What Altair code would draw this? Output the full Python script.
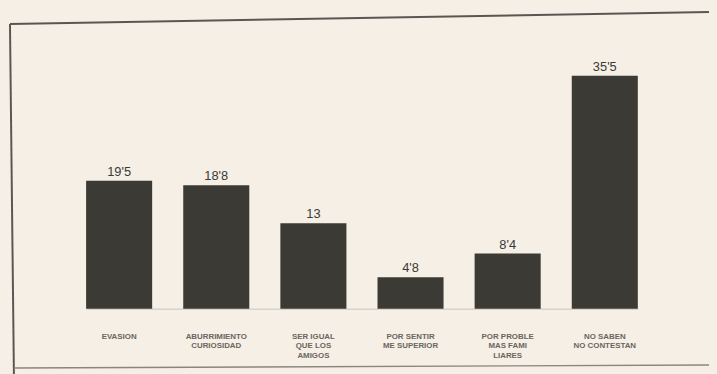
import altair as alt
import pandas as pd

categories = ["EVASION", "ABURRIMIENTO|CURIOSIDAD", "SER IGUAL|QUE LOS|AMIGOS",
              "POR SENTIR|ME SUPERIOR", "POR PROBLE|MAS FAMI|LIARES", "NO SABEN|NO CONTESTAN"]
values = [19.5, 18.8, 13, 4.8, 8.4, 35.5]
value_labels = ["19'5", "18'8", "13", "4'8", "8'4", "35'5"]

df = pd.DataFrame({"cat": categories, "val": values, "lab": value_labels})

BG = "#f5efe6"
BAR = "#3b3a35"
PL = 79
W = 558

x = alt.X("cat:N", sort=None,
          scale=alt.Scale(paddingInner=0.32, paddingOuter=0),
          axis=alt.Axis(title=None, labelAngle=0, ticks=False, domain=True,
                        domainColor="#c9c3b8", domainWidth=1,
                        labelExpr="split(datum.label, '|')",
                        labelFontSize=8, labelFontWeight="bold", labelColor="#6a6660",
                        labelFont="Liberation Sans", labelBaseline="top",
                        labelLineHeight=9.5, labelPadding=24))
y = alt.Y("val:Q", scale=alt.Scale(domain=[0, 45.5], nice=False), axis=None)

bars = alt.Chart(df).mark_bar(color=BAR).encode(x=x, y=y)
texts = alt.Chart(df).mark_text(dy=-9, fontSize=13, color="#3a3a36",
                                font="Liberation Sans").encode(x=x, y=y, text="lab:N")

frame_df = pd.DataFrame({"k": ["a"]})
left = alt.Chart(frame_df).mark_rule(color="#5a5752", strokeWidth=2).encode(
    x=alt.value(2 - PL), x2=alt.value(6 - PL), y=alt.value(14), y2=alt.value(370))
top = alt.Chart(frame_df).mark_rule(color="#5a5752", strokeWidth=2).encode(
    x=alt.value(2 - PL), x2=alt.value(712 - PL), y=alt.value(14), y2=alt.value(2))
bottom = alt.Chart(frame_df).mark_rule(color="#8a857d", strokeWidth=1.5).encode(
    x=alt.value(6 - PL), x2=alt.value(712 - PL), y=alt.value(362), y2=alt.value(359))

chart = alt.layer(left, top, bottom, bars, texts).properties(
    width=W, height=302,
    autosize=alt.AutoSizeParams(type="none"),
    padding={"left": PL, "top": 0, "right": 709 - PL - W, "bottom": 64},
    background=BG,
).configure_view(stroke=None)

chart.save("out.html", embed_options={"renderer": "svg", "actions": False})

with open("out.html", "r", encoding="utf-8") as f:
    html = f.read()
html = html.replace("<head>", "<head>\n<style>html, body { background: %s; overflow: hidden; }</style>" % BG, 1)
with open("out.html", "w", encoding="utf-8") as f:
    f.write(html)
